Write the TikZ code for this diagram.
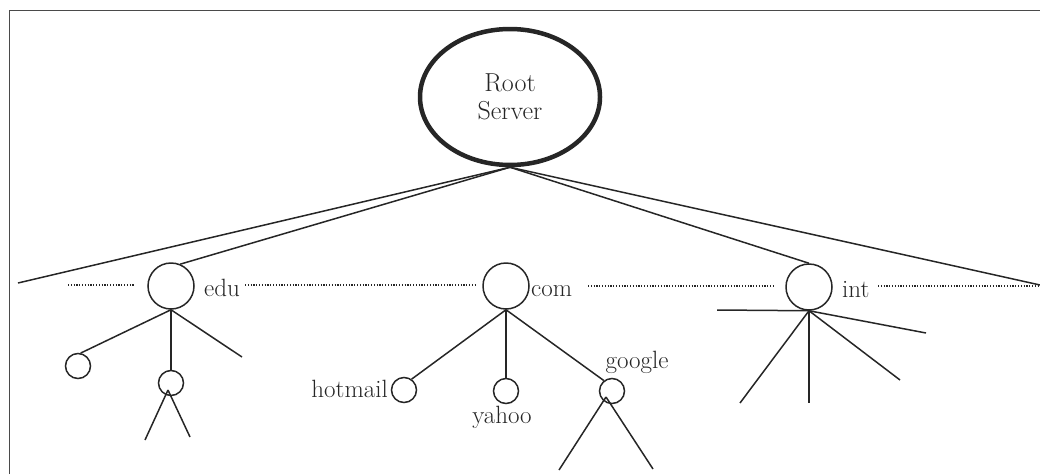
\documentclass[tikz,border=0pt]{standalone}
\usepackage{fontspec}
\usetikzlibrary{shapes.geometric,calc}
\definecolor{ink}{HTML}{262626}
\definecolor{framec}{HTML}{4A4A4A}
\begin{document}
\begin{tikzpicture}[x=1pt,y=-1pt,
  wire/.style={draw=ink, line width=1.5pt},
  dots/.style={draw=ink, line width=1.2pt, dash pattern=on 1.1pt off 1.7pt},
  rootnode/.style={ellipse, draw=ink, line width=4.5pt, minimum width=180pt, minimum height=136pt,
    inner sep=0pt, align=center, font=\fontsize{26}{28}\selectfont, text=ink},
  dom/.style={circle, draw=ink, line width=1.5pt, minimum size=46pt, inner sep=0pt},
  leaf/.style={circle, draw=ink, line width=1.5pt, minimum size=25pt, inner sep=0pt},
  lbl/.style={font=\fontsize{25}{28}\selectfont, inner sep=0pt, text=ink}]
\useasboundingbox (0,0) rectangle (1040,474);

% page frame
\draw[framec, line width=1pt] (9,474) -- (9,10) -- (1040,10);

% root of the name space
\node[rootnode] (root) at (510,97) {Root\\Server};

% top-level domains
\node[dom] (edu) at (171,286) {};
\node[dom] (com) at (506,286) {};
\node[dom] (int) at (809,287) {};
\node[lbl, anchor=base west] (edul) at (204,296) {edu};
\node[lbl, anchor=base west] (coml) at (531,296) {com};
\node[lbl, anchor=base west] (intl) at (842,297) {int};

% second-level domains
\node[leaf] (e1) at (78,366) {};
\node[leaf] (e2) at (171,383) {};
\node[leaf] (hm) at (404,390) {};
\node[leaf] (yh) at (506,391) {};
\node[leaf] (gg) at (612,391) {};
\node[lbl, anchor=base east] (hml) at (388,397) {hotmail};
\node[lbl, anchor=base] (yhl) at (502,423) {yahoo};
\node[lbl, anchor=base] (ggl) at (637,368) {google};

% open branch ends
\coordinate (farL) at (18,283);
\coordinate (farR) at (1040,285);
\coordinate (eR) at (242,357);
\coordinate (e2in) at ($(e2.center)+(-3,7)$);
\coordinate (e2L) at (145,440);
\coordinate (e2R) at (190,437);
\coordinate (ggin) at ($(gg.center)+(-6,6)$);
\coordinate (gL) at (559,470);
\coordinate (gR) at (653,469);
\coordinate (iL) at (717,310);
\coordinate (iR) at (926,333);
\coordinate (iDL) at (740,403);
\coordinate (iD) at (809,403);
\coordinate (iDR) at (900,380);

% dotted level lines
\coordinate (d1a) at (68,285);  \coordinate (d1b) at (135,285);
\coordinate (d2a) at (245,285); \coordinate (d2b) at (477,285);
\coordinate (d3a) at (588,286); \coordinate (d3b) at (775,286);
\coordinate (d4a) at (878,286); \coordinate (d4b) at (1040,286);
\draw[dots] (d1a) -- (d1b);
\draw[dots] (d2a) -- (d2b);
\draw[dots] (d3a) -- (d3b);
\draw[dots] (d4a) -- (d4b);

% root branches
\draw[wire] (root.south) -- (farL);
\draw[wire] (root.south) -- (edu.67);
\draw[wire] (root.south) -- (int.north);
\draw[wire] (root.south) -- (farR);

% edu subtree
\draw[wire] (edu.south) -- (e1.78);
\draw[wire] (edu.south) -- (e2.north);
\draw[wire] (edu.south) -- (eR);
\draw[wire] (e2in) -- (e2L);
\draw[wire] (e2in) -- (e2R);

% com subtree
\draw[wire] (com.south) -- (hm.55);
\draw[wire] (com.south) -- (yh.north);
\draw[wire] (com.south) -- (gg.128);
\draw[wire] (ggin) -- (gL);
\draw[wire] (ggin) -- (gR);

% int subtree
\draw[wire] (int.south) -- (iL);
\draw[wire] (int.south) -- (iR);
\draw[wire] (int.south) -- (iDL);
\draw[wire] (int.south) -- (iD);
\draw[wire] (int.south) -- (iDR);
\end{tikzpicture}
\end{document}
